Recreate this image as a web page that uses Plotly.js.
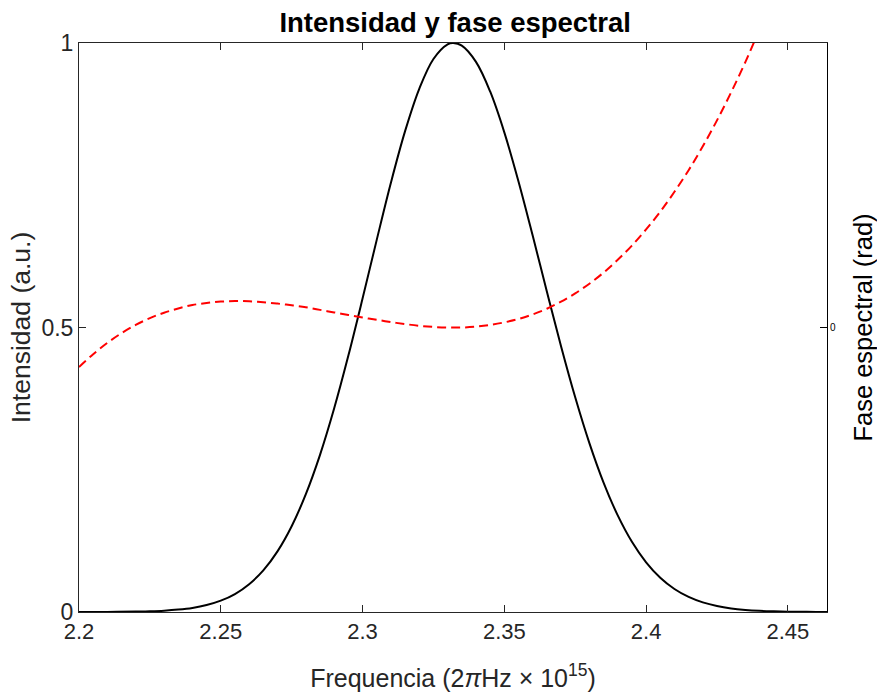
<!DOCTYPE html>
<html>
<head>
<meta charset="utf-8">
<script src="https://cdn.plot.ly/plotly-3.0.1.min.js"></script>
<style>
html,body{margin:0;padding:0;background:#fff;}
#chart{width:877px;height:692px;}
</style>
</head>
<body>
<div id="chart"></div>
<script>
// Intensity (black solid line)
const freqIntensity = [2.200,2.210,2.220,2.225,2.230,2.235,2.240,2.245,2.250,2.255,2.260,2.265,2.270,2.275,2.280,2.285,2.290,2.295,2.300,2.305,2.310,2.315,2.320,2.325,2.330,2.332,2.335,2.340,2.345,2.350,2.355,2.360,2.365,2.370,2.375,2.380,2.385,2.390,2.395,2.400,2.405,2.410,2.415,2.420,2.425,2.430,2.435,2.440,2.445,2.450,2.455,2.460,2.4638];
const intensity = [0.0000,0.0002,0.0007,0.0013,0.0023,0.0042,0.0072,0.0122,0.0199,0.0316,0.0489,0.0732,0.1066,0.1508,0.2071,0.2762,0.3580,0.4506,0.5508,0.6540,0.7544,0.8451,0.9195,0.9719,0.9977,1.0000,0.9953,0.9668,0.9148,0.8430,0.7567,0.6615,0.5633,0.4672,0.3774,0.2969,0.2275,0.1698,0.1234,0.0874,0.0603,0.0405,0.0265,0.0169,0.0105,0.0063,0.0037,0.0021,0.0012,0.0006,0.0003,0.0002,0.0001];

// Spectral phase (red dashed line, right axis)
const freqPhase = [2.200,2.205,2.210,2.215,2.220,2.225,2.230,2.235,2.240,2.245,2.250,2.255,2.260,2.265,2.270,2.275,2.280,2.285,2.290,2.295,2.300,2.305,2.310,2.315,2.320,2.325,2.330,2.335,2.340,2.345,2.350,2.355,2.360,2.365,2.370,2.375,2.380,2.385,2.390,2.395,2.400,2.405,2.410,2.415,2.420,2.425,2.430,2.435,2.440];
const phase = [-0.139,-0.094,-0.054,-0.020,0.009,0.033,0.052,0.067,0.079,0.086,0.091,0.093,0.092,0.089,0.084,0.078,0.071,0.062,0.053,0.044,0.035,0.027,0.019,0.012,0.006,0.002,0.000,0.000,0.003,0.009,0.018,0.030,0.046,0.066,0.091,0.120,0.154,0.193,0.238,0.288,0.345,0.407,0.477,0.553,0.637,0.728,0.827,0.933,1.048];

const xTicks = [2.2,2.25,2.3,2.35,2.4,2.45];
const xTickText = ['2.2','2.25','2.3','2.35','2.4','2.45'];
const yTicks = [0,0.5,1];
const yTickText = ['0','0.5','1'];
const y2Ticks = [0];
const y2TickText = ['0'];

const axisColor = '#262626';
const font = 'Liberation Sans, Arial, sans-serif';

const traces = [
  {x: freqIntensity, y: intensity, type:'scatter', mode:'lines',
   line:{color:'#000000', width:2, shape:'spline', smoothing:1}, yaxis:'y', hoverinfo:'skip'},
  {x: freqPhase, y: phase, type:'scatter', mode:'lines',
   line:{color:'#ff0000', width:2, dash:'9px,5px', shape:'spline', smoothing:1}, yaxis:'y2', hoverinfo:'skip'}
];

const layout = {
  width:877, height:692,
  margin:{l:79, r:50, t:43, b:80, pad:0},
  paper_bgcolor:'#ffffff', plot_bgcolor:'#ffffff',
  showlegend:false,
  font:{family:font, color:axisColor},
  title:{text:'<b>Intensidad y fase espectral</b>', x:0.519, xanchor:'center', y:0.968, yanchor:'middle',
         font:{family:font, size:27.5, color:'#000000'}},
  xaxis:{range:[2.2,2.4638], tickvals:xTicks, ticktext:xTickText,
         ticks:'inside', ticklen:7, tickwidth:1, tickcolor:axisColor,
         showline:true, linecolor:axisColor, linewidth:1, mirror:'ticks',
         showgrid:false, zeroline:false, automargin:false,
         tickfont:{size:22, color:axisColor, family:font},
         title:{text:'Frequencia (2<i>π</i>Hz × 10<sup>15</sup>)', standoff:27,
                font:{size:25, color:axisColor, family:font}}},
  yaxis:{range:[0,1], tickvals:yTicks, ticktext:yTickText,
         ticks:'inside', ticklen:7, tickwidth:1, tickcolor:axisColor,
         showline:true, linecolor:axisColor, linewidth:1,
         showgrid:false, zeroline:false, automargin:false,
         tickfont:{size:23, color:axisColor, family:font},
         title:{text:'Intensidad (a.u.)', standoff:3,
                font:{size:26.5, color:axisColor, family:font}}},
  yaxis2:{range:[-1,1], overlaying:'y', side:'right', tickvals:y2Ticks, ticktext:y2TickText,
          ticks:'inside', ticklen:7, tickwidth:1, tickcolor:'#000000',
          showline:true, linecolor:'#000000', linewidth:1,
          showgrid:false, zeroline:false, automargin:false,
          tickfont:{size:10, color:'#000000', family:font},
          title:{text:'Fase espectral (rad)', standoff:19,
                 font:{size:25.5, color:'#000000', family:font}}}
};

Plotly.newPlot('chart', traces, layout, {displayModeBar:false, staticPlot:true});
</script>
</body>
</html>
